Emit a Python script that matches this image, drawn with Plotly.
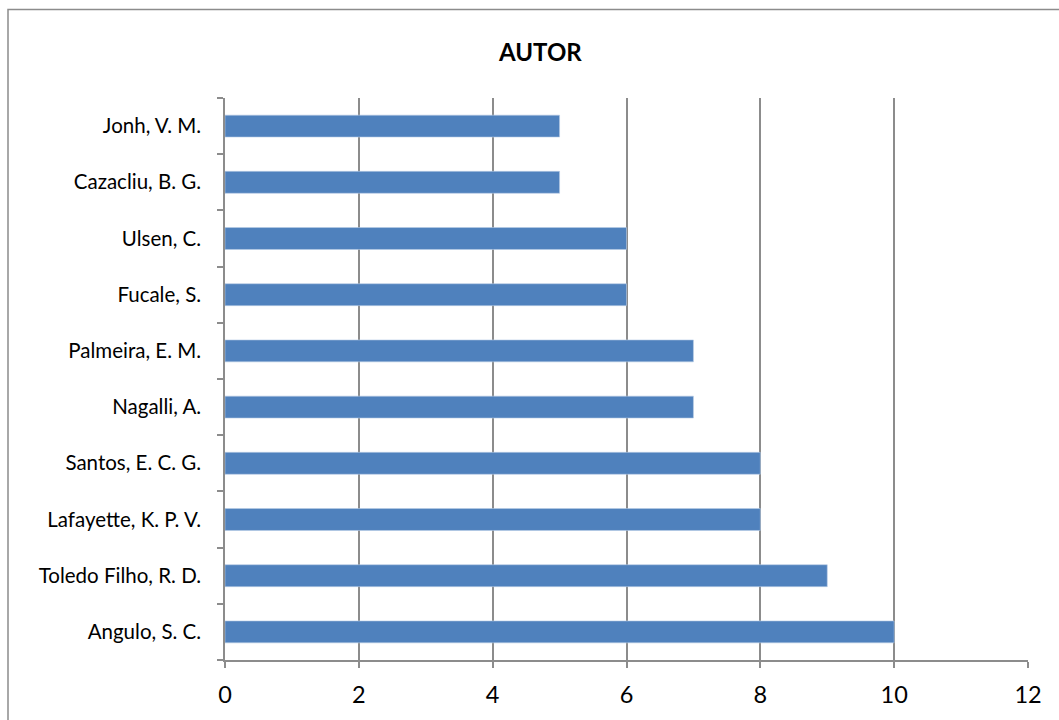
import plotly.graph_objects as go

authors = ["Angulo, S. C.", "Toledo Filho, R. D.", "Lafayette, K. P. V.", "Santos, E. C. G.",
           "Nagalli, A.", "Palmeira, E. M.", "Fucale, S.", "Ulsen, C.", "Cazacliu, B. G.", "Jonh, V. M."]
counts = [10, 9, 8, 8, 7, 7, 6, 6, 5, 5]
x_ticks = [0, 2, 4, 6, 8, 10, 12]

L, R, T, B = 225, 31, 98, 60
W, H = 1059, 720
pw, ph = W - L - R, H - T - B

def px(x):
    return (x - L) / pw

def py(y):
    return (H - B - y) / ph

fig = go.Figure(go.Bar(
    x=counts, y=authors, orientation="h",
    marker=dict(color="#4F81BD", line=dict(color="#B9CDE5", width=0.6)),
    hoverinfo="x+y",
))

fig.update_layout(
    width=W, height=H,
    margin=dict(l=L, r=R, t=T, b=B),
    paper_bgcolor="white", plot_bgcolor="white",
    bargap=0.61,
    showlegend=False,
    font=dict(family="Lato, Noto Sans, sans-serif", color="#000000"),
    xaxis=dict(
        range=[0, 12], tickvals=x_ticks, ticktext=[str(v) for v in x_ticks],
        showgrid=True, gridcolor="#8C8C8C", gridwidth=1.5,
        showline=True, linecolor="#8C8C8C", linewidth=1.5,
        ticks="outside", ticklen=6, tickcolor="#8C8C8C", tickwidth=1.5,
        tickfont=dict(size=23.5), ticklabelstandoff=7, zeroline=False, fixedrange=True,
    ),
    yaxis=dict(
        type="category", categoryorder="array", categoryarray=authors,
        range=[-0.5, 9.5],
        showgrid=False, showline=True, linecolor="#8C8C8C", linewidth=1.5,
        ticks="outside", tickson="boundaries", ticklen=6, tickcolor="#8C8C8C", tickwidth=1.5,
        tickfont=dict(size=20.5), ticklabelstandoff=18, fixedrange=True,
    ),
    shapes=[dict(
        type="rect", xref="paper", yref="paper",
        x0=px(8), x1=px(1075), y0=py(740), y1=py(9.5),
        line=dict(color="#8C8C8C", width=1.5), fillcolor="rgba(0,0,0,0)", layer="below",
    )],
    annotations=[dict(
        text="<b>AUTOR</b>", xref="paper", yref="paper",
        x=px(540), y=py(52), xanchor="center", yanchor="middle",
        showarrow=False, font=dict(size=24, color="#000000"),
    )],
)

fig.write_html("out.html")
